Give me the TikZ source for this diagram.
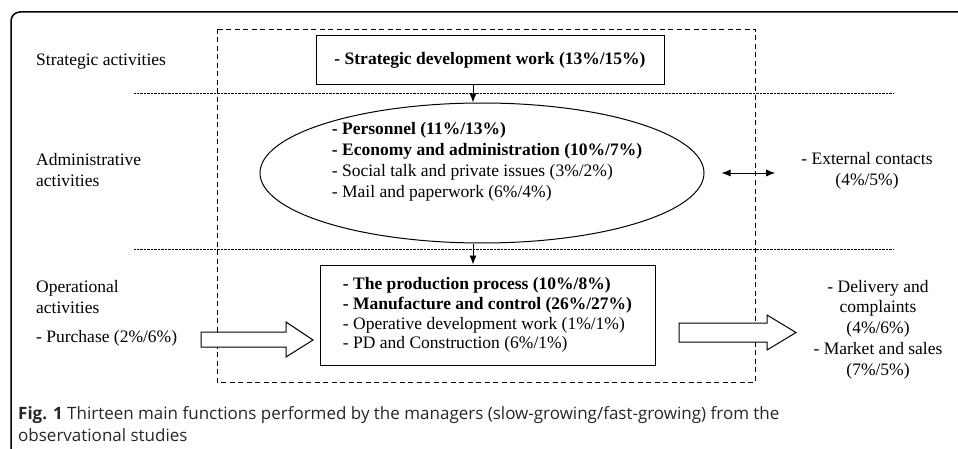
\documentclass[tikz,border=0pt]{standalone}
\usepackage{fontspec}
\setmainfont{Liberation Serif}
\newfontfamily\capfont{Open Sans}
\usetikzlibrary{arrows.meta,shapes.geometric}
\tikzset{
every node/.style={inner sep=0pt, font=\fontsize{17.5}{21}\selectfont},
lvl/.style={anchor=west, align=left},
fbox/.style={rectangle, draw, line width=1pt},
sep/.style={dash pattern=on 0.7pt off 0.7pt, line width=0.7pt},
arr/.style={-{Latex[length=9pt,width=7pt]}, line width=0.9pt},
blk/.style={draw, line width=1pt, fill=white}
}

\begin{document}
\begin{tikzpicture}[x=1pt,y=-1pt]
\useasboundingbox (0,0) rectangle (958,449);
\draw[line width=1.5pt, rounded corners=9pt] (958,12) -- (11,12) -- (11,449);
\draw[dash pattern=on 5pt off 3.5pt, line width=0.8pt] (217,29) rectangle (755,382);
\draw[sep] (134,93) -- (893,93);
\draw[sep] (134,249) -- (893,249);

\node[lvl] (l1) at (36,62) {Strategic activities};
\node[lvl] (l2) at (36,170.5) {Administrative\\activities};
\node[lvl] (l3) at (36,297.5) {Operational\\activities};
\node[lvl] (pur) at (36,338) {- Purchase (2\%/6\%)};

\node[fbox, minimum width=348, minimum height=49] (strat) at (490,60.5)
  {\textbf{- Strategic development work (13\%/15\%)}};
\node[ellipse, draw, line width=1pt, minimum width=444, minimum height=140] (admin) at (482,173) {};
\node[align=left] (admtxt) at (487,162)
  {\textbf{- Personnel (11\%/13\%)}\\
   \textbf{- Economy and administration (10\%/7\%)}\\
   - Social talk and private issues (3\%/2\%)\\
   - Mail and paperwork (6\%/4\%)};
\node[fbox, align=left, minimum width=335, minimum height=100,
  font=\fontsize{17.5}{19.7}\selectfont] (prod) at (487.5,315)
  {\textbf{- The production process (10\%/8\%)}\\
   \textbf{- Manufacture and control (26\%/27\%)}\\
   - Operative development work (1\%/1\%)\\
   - PD and Construction (6\%/1\%)};

\node[align=center] (ext) at (867,171) {- External contacts\\(4\%/5\%)};
\node[align=center, font=\fontsize{17.5}{20.75}\selectfont] (out) at (878,329.5)
  {- Delivery and\\complaints\\(4\%/6\%)\\- Market and sales\\(7\%/5\%)};

\coordinate (mid) at (473,0);
\draw[arr] (strat.south -| mid) -- (admin.north -| mid);
\draw[arr] (admin.south -| mid) -- (prod.north -| mid);
\draw[arr, {Latex[length=9pt,width=7pt]}-{Latex[length=9pt,width=7pt]}]
  ([xshift=17]admin.east) -- ([xshift=-26]ext.west |- admin.east);

\draw[blk] (201,332) -- (286,332) -- (286,322) -- (313,340) -- (286,357) -- (286,347) -- (201,347) -- cycle;
\draw[blk] (679,323) -- (767,323) -- (767,315) -- (796,332.5) -- (767,350) -- (767,342) -- (679,342) -- cycle;

\node[anchor=west, align=left, text=black!85, font=\capfont\fontsize{17}{22}\selectfont] (cap) at (18,424)
  {\textbf{Fig. 1} Thirteen main functions performed by the managers (slow-growing/fast-growing) from the\\
   observational studies};
\end{tikzpicture}
\end{document}
